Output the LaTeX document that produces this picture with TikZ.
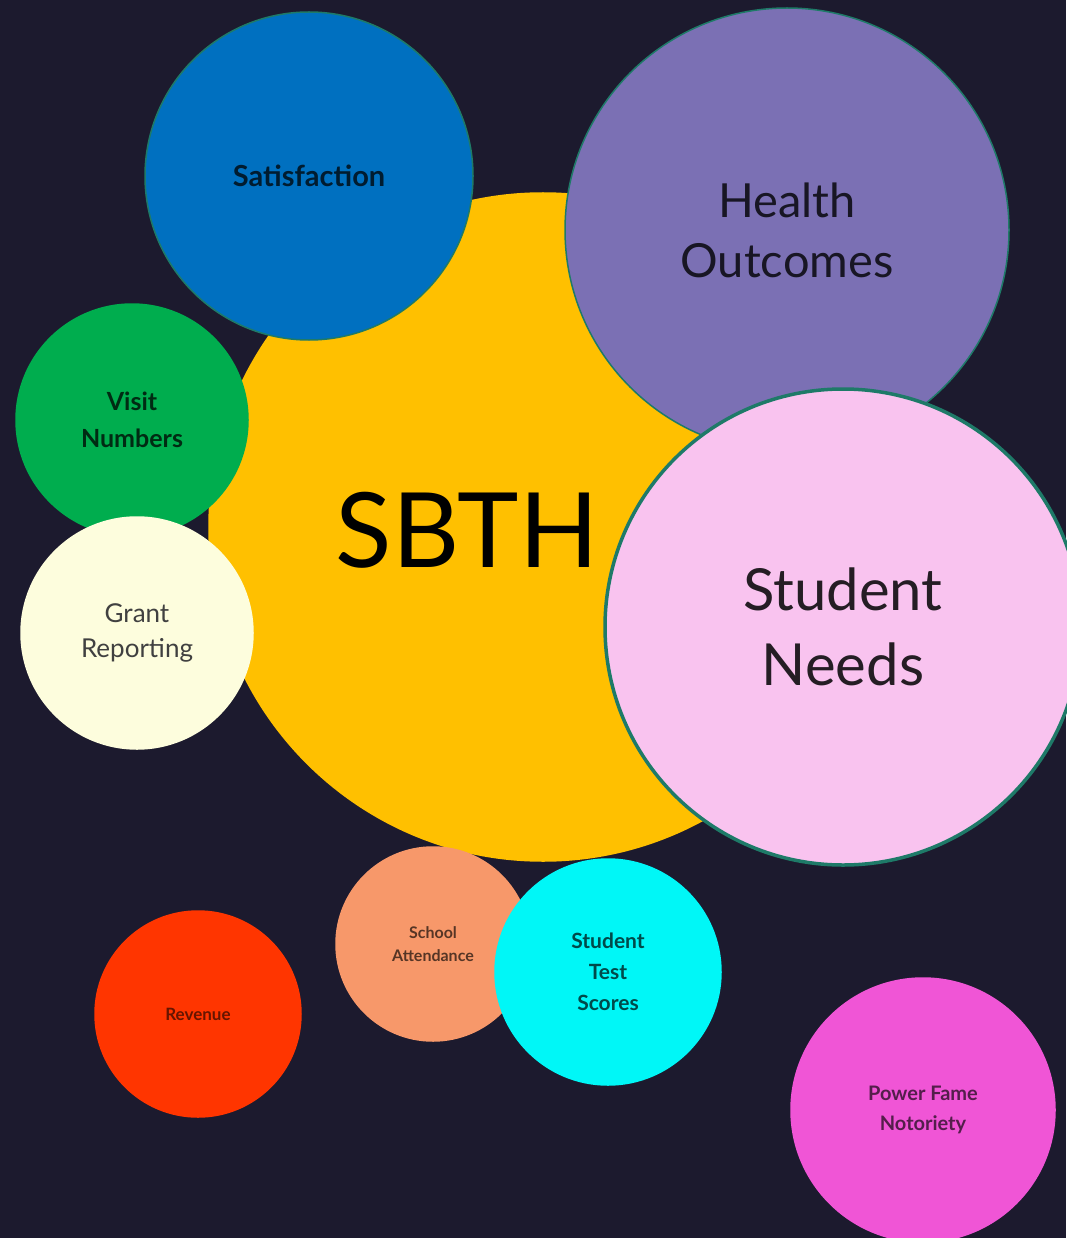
\documentclass[tikz,border=0pt]{standalone}
\usepackage{fontspec}
\setmainfont{Lato}
\begin{document}
\begin{tikzpicture}[x=1pt,y=-1pt,
  bubble/.style={circle,inner sep=0pt,align=center,draw=#1,line width=1.5pt},
  bubble/.default=none]
\definecolor{bg}{HTML}{1C1A2E}
\definecolor{edge}{HTML}{1E7A68}
\definecolor{cYellow}{HTML}{FFC000}
\definecolor{cBlue}{HTML}{0070C0}
\definecolor{cPurple}{HTML}{7B70B4}
\definecolor{cPink}{HTML}{F9C3EF}
\definecolor{cGreen}{HTML}{00AD4E}
\definecolor{cCream}{HTML}{FDFDDD}
\definecolor{cSalmon}{HTML}{F7986A}
\definecolor{cCyan}{HTML}{00F7F7}
\definecolor{cRed}{HTML}{FF3500}
\definecolor{cMagenta}{HTML}{F055D6}
\fill[bg] (0,0) rectangle (1066,1238);
\useasboundingbox (0,0) rectangle (1066,1238);

\node[bubble=cYellow,fill=cYellow,minimum size=668pt] (sbth) at (543,527) {};
\node[text=black,font=\fontsize{104}{104}\selectfont] (sbthlabel) at (467,530) {SBTH};

\node[bubble=edge,fill=cBlue,minimum size=328pt,text=cBlue!25!black,font=\bfseries\fontsize{29}{34}\selectfont] (sat) at (309,176) {Satisfaction};

\node[bubble=edge,fill=cPurple,minimum size=444pt,text=cPurple!20!black,font=\fontsize{47}{60}\selectfont] (health) at (787,230) {Health\\Outcomes};

\node[bubble=edge,line width=3.5pt,fill=cPink,minimum size=476pt,text=cPink!15!black,font=\fontsize{58}{75}\selectfont] (needs) at (843,627) {Student\\Needs};

\node[bubble=cGreen,fill=cGreen,minimum size=232pt,text=cGreen!25!black,font=\bfseries\fontsize{25}{37}\selectfont] (visit) at (132,420) {Visit\\Numbers};

\node[bubble=cCream,fill=cCream,minimum size=232pt,text=black!75,font=\fontsize{26}{35}\selectfont] (grant) at (137,633) {Grant\\Reporting};

\node[bubble=cSalmon,fill=cSalmon,minimum size=194pt,text=cSalmon!35!black,font=\bfseries\fontsize{16}{23}\selectfont] (school) at (433,944) {School\\Attendance};

\node[bubble=cCyan,fill=cCyan,minimum size=226pt,text=cCyan!30!black,font=\bfseries\fontsize{21}{31}\selectfont] (test) at (608,972) {Student\\Test\\Scores};

\node[bubble=cRed,fill=cRed,minimum size=206pt,text=cRed!40!black,font=\bfseries\fontsize{17}{18}\selectfont] (revenue) at (198,1014) {Revenue};

\node[bubble=cMagenta,fill=cMagenta,minimum size=264pt,text=cMagenta!35!black,font=\bfseries\fontsize{20}{30}\selectfont] (power) at (923,1110) {Power Fame\\Notoriety};
\end{tikzpicture}
\end{document}
